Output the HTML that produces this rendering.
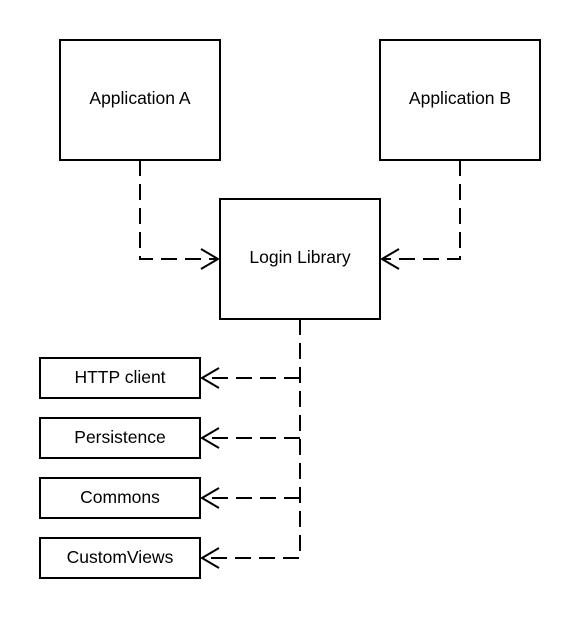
<!DOCTYPE html>
<html><head><style>body{margin:0;background:#fff}</style></head><body>
<svg width="580" height="619" xmlns="http://www.w3.org/2000/svg" style="display:block">
<rect width="580" height="619" fill="#fff"/>
<g fill="none" stroke="#000" stroke-width="2">
<rect x="60" y="40" width="160" height="120"/>
<rect x="380" y="40" width="160" height="120"/>
<rect x="220" y="199" width="160" height="120"/>
<rect x="40" y="358" width="160" height="40"/>
<rect x="40" y="418" width="160" height="40"/>
<rect x="40" y="478" width="160" height="40"/>
<rect x="40" y="538" width="160" height="40"/>
<g stroke-dasharray="16 8">
<path d="M140 160 V259 H216"/>
<path d="M460 160 V259 H384"/>
<path d="M300 319 V558 H204"/>
<path d="M300 378 H204"/>
<path d="M300 438 H204"/>
<path d="M300 498 H204"/>
</g>
<path d="M201 249 L218 259 L201 269"/>
<path d="M399 249 L382 259 L399 269"/>
<path d="M219 368 L202 378 L219 388"/>
<path d="M219 428 L202 438 L219 448"/>
<path d="M219 488 L202 498 L219 508"/>
<path d="M219 548 L202 558 L219 568"/>
</g>
<g font-family="Liberation Sans, sans-serif" font-size="17.5" text-anchor="middle" fill="#000">
<text x="140" y="104">Application A</text>
<text x="460" y="104">Application B</text>
<text x="300" y="263">Login Library</text>
<text x="120" y="383">HTTP client</text>
<text x="120" y="443">Persistence</text>
<text x="120" y="503">Commons</text>
<text x="120" y="563">CustomViews</text>
</g>
</svg>
</body></html>
